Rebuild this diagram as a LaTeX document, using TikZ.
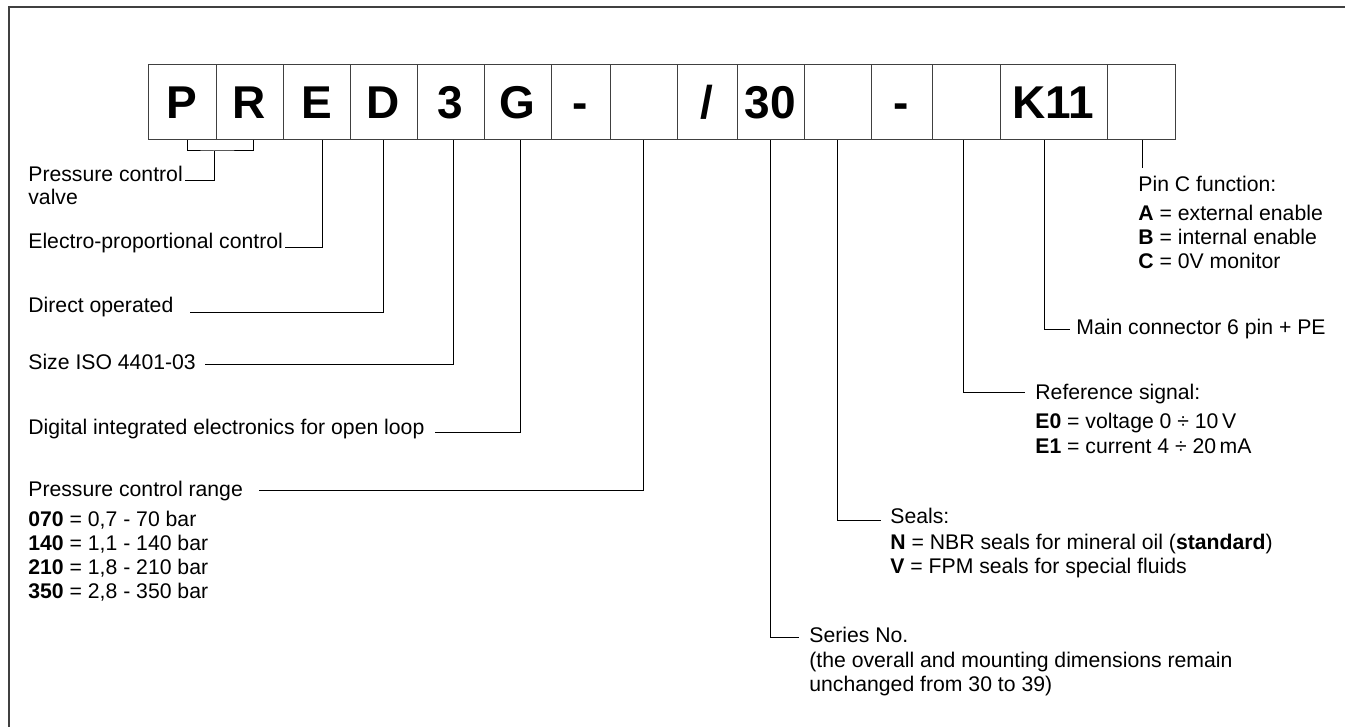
\documentclass[tikz,border=0pt]{standalone}
\usepackage{fontspec}
\setmainfont{Liberation Sans}
\tikzset{
  cell/.style={draw=black!75, line width=0.5pt, minimum height=37.5pt, inner sep=0pt,
    text height=16.5pt, text depth=0pt, font=\fontsize{23}{23}\selectfont\bfseries},
  lbl/.style={anchor=base west, inner sep=0pt, font=\fontsize{10.6}{12.7}\selectfont},
  lead/.style={line width=0.5pt}
}
\begin{document}
\begin{tikzpicture}[x=0.5pt,y=-0.5pt]
    \useasboundingbox (0,0) rectangle (1345,727);
    \draw[black!75, line width=0.8pt] (9,727) -- (9,7) -- (1345,7);

    % Code boxes
    \node[cell, minimum width=34pt]   (cP)   at (182,102.5)    {P};
    \node[cell, minimum width=33.5pt] (cR)   at (249.5,102.5)  {R};
    \node[cell, minimum width=33.5pt] (cE)   at (316.5,102.5)  {E};
    \node[cell, minimum width=33.5pt] (cD)   at (383.5,102.5)  {D};
    \node[cell, minimum width=33.5pt] (cS)   at (450.5,102.5)  {3};
    \node[cell, minimum width=33.5pt] (cG)   at (517.5,102.5)  {G};
    \node[cell, minimum width=29.5pt] (cH1)  at (580.5,102.5)  {-};
    \node[cell, minimum width=33.5pt] (cB1)  at (643.5,102.5)  {};
    \node[cell, minimum width=30pt]   (cSl)  at (707,102.5)    {/};
    \node[cell, minimum width=33.5pt] (cSer) at (770.5,102.5)  {30};
    \node[cell, minimum width=33.5pt] (cB2)  at (837.5,102.5)  {};
    \node[cell, minimum width=30.5pt] (cH2)  at (901.5,102.5)  {-};
    \node[cell, minimum width=34pt]   (cB3)  at (966,102.5)    {};
    \node[cell, minimum width=53.5pt] (cK)   at (1053.5,102.5) {K11};
    \node[cell, minimum width=34pt]   (cB4)  at (1141,102.5)   {};

    % Left labels
    \node[lbl] (tPCV)   at (28,182) {Pressure control};
    \node[lbl] (tValve) at (28,205) {valve};
    \node[lbl] (tEP)    at (28,249) {Electro-proportional control};
    \node[lbl] (tDir)   at (28,313) {Direct operated};
    \node[lbl] (tSize)  at (28,370) {Size ISO 4401-03};
    \node[lbl] (tDig)   at (28,435) {Digital integrated electronics for open loop};
    \node[lbl] (tRange) at (28,496) {Pressure control range};
    \node[lbl] (r070)   at (28,526) {\textbf{070} = 0,7 - 70 bar};
    \node[lbl] (r140)   at (28,550) {\textbf{140} = 1,1 - 140 bar};
    \node[lbl] (r210)   at (28,574) {\textbf{210} = 1,8 - 210 bar};
    \node[lbl] (r350)   at (28,598) {\textbf{350} = 2,8 - 350 bar};

    % Right labels
    \node[lbl] (tPin)   at (1138,192) {Pin C function:};
    \node[lbl] (pinA)   at (1138,221) {\textbf{A} = external enable};
    \node[lbl] (pinB)   at (1138,245) {\textbf{B} = internal enable};
    \node[lbl] (pinC)   at (1138,269) {\textbf{C} = 0V monitor};
    \node[lbl] (tMain)  at (1076,335) {Main connector 6 pin + PE};
    \node[lbl] (tRef)   at (1035,400) {Reference signal:};
    \node[lbl] (refE0)  at (1035,429) {\textbf{E0} = voltage 0 ÷ 10\,V};
    \node[lbl] (refE1)  at (1035,453) {\textbf{E1} = current 4 ÷ 20\,mA};
    \node[lbl] (tSeals) at (890,523) {Seals:};
    \node[lbl] (sealN)  at (890,549) {\textbf{N} = NBR seals for mineral oil (\textbf{standard})};
    \node[lbl] (sealV)  at (890,573) {\textbf{V} = FPM seals for special fluids};
    \node[lbl] (tSer)   at (809,642) {Series No.};
    \node[lbl] (ser2)   at (809,667) {(the overall and mounting dimensions remain};
    \node[lbl] (ser3)   at (809,691) {unchanged from 30 to 39)};

    % Leaders
    \coordinate (brk) at (214,151);
    \draw[lead] ([xshift=2.5pt]cP.south) |- (brk) -| ([xshift=1.75pt]cR.south);
    \draw[lead] (brk) |- ([xshift=1pt,yshift=0.5pt]tPCV.base east);
    \draw[lead] ([xshift=2.75pt]cE.south) |- ([xshift=1pt,yshift=0.5pt]tEP.base east);
    \draw[lead] (cD.south) |- ([xshift=8pt]tDir.base east);
    \draw[lead] ([xshift=1.25pt]cS.south) |- ([xshift=4.5pt,yshift=2.5pt]tSize.base east);
    \draw[lead] ([xshift=1.25pt]cG.south) |- ([xshift=5pt,yshift=1pt]tDig.base east);
    \draw[lead] (cB1.south) |- ([xshift=8pt,yshift=3pt]tRange.base east);
    \draw[lead] (cSer.south) |- ([xshift=-5pt,yshift=2.5pt]tSer.base west);
    \draw[lead] (cB2.south) |- ([xshift=-4.5pt,yshift=1.5pt]tSeals.base west);
    \draw[lead] ([xshift=-1.5pt]cB3.south) |- ([xshift=-5pt,yshift=3.5pt]tRef.base west);
    \draw[lead] ([xshift=-4.75pt]cK.south) |- ([xshift=-3pt,yshift=2.5pt]tMain.base west);
    \draw[lead] ([xshift=0.5pt]cB4.south) -- ++(0pt,-14pt);
\end{tikzpicture}
\end{document}
